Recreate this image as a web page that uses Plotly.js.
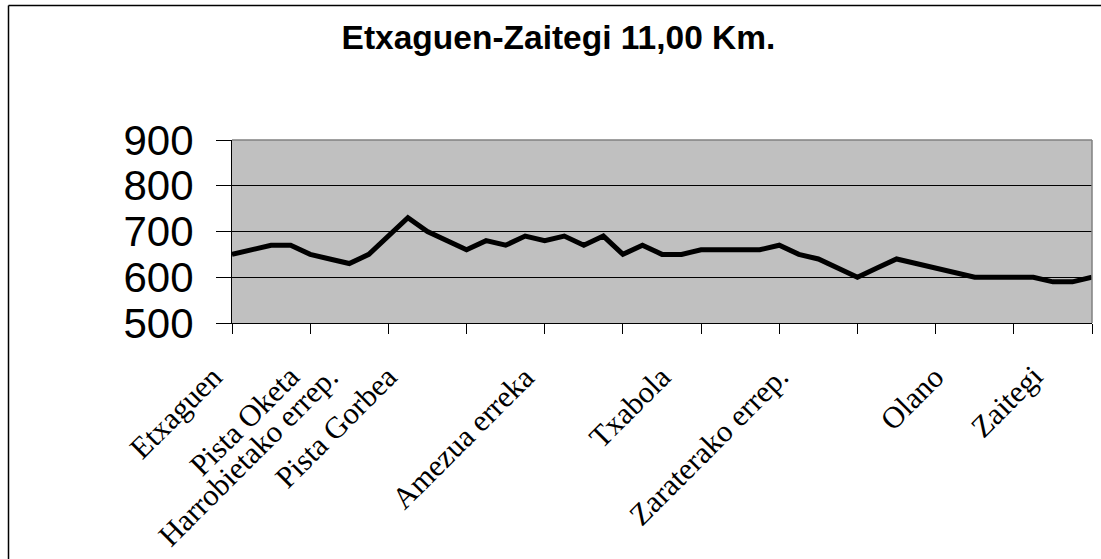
<!DOCTYPE html>
<html>
<head>
<meta charset="utf-8">
<script src="https://cdn.plot.ly/plotly-3.0.1.min.js"></script>
<style>html,body{margin:0;padding:0;background:#fff;} #chart{width:1101px;height:559px;}</style>
</head>
<body>
<div id="chart"></div>
<script>
// Elevation profile (m), one value per point along the route
const pointIndex = [];
const elevation = [650, 660, 670, 670, 650, 640, 630, 650, 690, 730,
                   700, 680, 660, 680, 670, 690, 680, 690, 670, 690,
                   650, 670, 650, 650, 660, 660, 660, 660, 670, 650,
                   640, 620, 600, 620, 640, 630, 620, 610, 600, 600,
                   600, 600, 590, 590, 600];
for (let i = 0; i < elevation.length; i++) pointIndex.push(i);

// Named places and the point where each is labelled
const placeIndex = [0, 4, 6, 9, 16, 23, 29, 37, 42];
const placeNames = ["Etxaguen", "Pista Oketa", "Harrobietako errep.", "Pista Gorbea",
                    "Amezua erreka", "Txabola", "Zaraterako errep.", "Olano", "Zaitegi"];

const yTicks = [500, 600, 700, 800, 900];
const titleText = "Etxaguen-Zaitegi 11,00 Km.";

const W = 1101, H = 559;
const m = {l: 232, r: 9, t: 140, b: 236};
const pw = W - m.l - m.r, ph = H - m.t - m.b;
const px = x => (x - m.l) / pw;
const py = y => (H - m.b - y) / ph;

const trace = {
  x: pointIndex, y: elevation, type: 'scatter', mode: 'lines',
  line: {color: '#000', width: 5}, hoverinfo: 'skip'
};

const placeLabels = placeIndex.map((idx, k) => ({
  x: idx, xref: 'x', y: py(357), yref: 'paper',
  text: placeNames[k], showarrow: false, textangle: -45,
  xanchor: 'right', yanchor: 'top', xshift: -1,
  font: {family: 'Liberation Serif, Times New Roman', size: 30.5, color: '#000'}
}));

const layout = {
  width: W, height: H, margin: m,
  paper_bgcolor: '#fff', plot_bgcolor: '#C0C0C0',
  showlegend: false,
  title: {text: '<b>' + titleText + '</b>', font: {family: 'Liberation Sans, Arial', size: 33.5, color: '#000'},
          x: 558.5 / W, xref: 'container', xanchor: 'center', y: 1 - 37 / H, yref: 'container', yanchor: 'middle'},
  xaxis: {
    range: [0, elevation.length - 1], tickmode: 'linear', tick0: 0, dtick: 4,
    showticklabels: false, ticks: 'outside', ticklen: 10, tickcolor: '#000', tickwidth: 1,
    showgrid: false, zeroline: false,
    showline: true, linecolor: '#000', linewidth: 1
  },
  yaxis: {
    range: [500, 900], tickmode: 'array', tickvals: yTicks, ticks: 'outside', ticklen: 15,
    tickcolor: '#000', tickwidth: 1, showgrid: true, gridcolor: '#000', gridwidth: 1, zeroline: false,
    showline: true, linecolor: '#000', linewidth: 1,
    tickfont: {family: 'Liberation Sans, Arial', size: 42, color: '#000'},
    ticklabelstandoff: 14
  },
  annotations: placeLabels,
  shapes: [
    {type: 'line', xref: 'paper', yref: 'paper', x0: 0, x1: 1, y0: 1, y1: 1, line: {color: '#808080', width: 1.5}},
    {type: 'line', xref: 'paper', yref: 'paper', x0: 1, x1: 1, y0: 0, y1: 1, line: {color: '#808080', width: 1.5}},
    {type: 'line', xref: 'paper', yref: 'paper', x0: px(8.5), x1: px(8.5), y0: py(5.5), y1: py(H + 2), line: {color: '#000', width: 1.5}},
    {type: 'line', xref: 'paper', yref: 'paper', x0: px(8.5), x1: px(W + 2), y0: py(5.5), y1: py(5.5), line: {color: '#000', width: 1.5}}
  ]
};

Plotly.newPlot('chart', [trace], layout, {displayModeBar: false, staticPlot: true});
</script>
</body>
</html>
